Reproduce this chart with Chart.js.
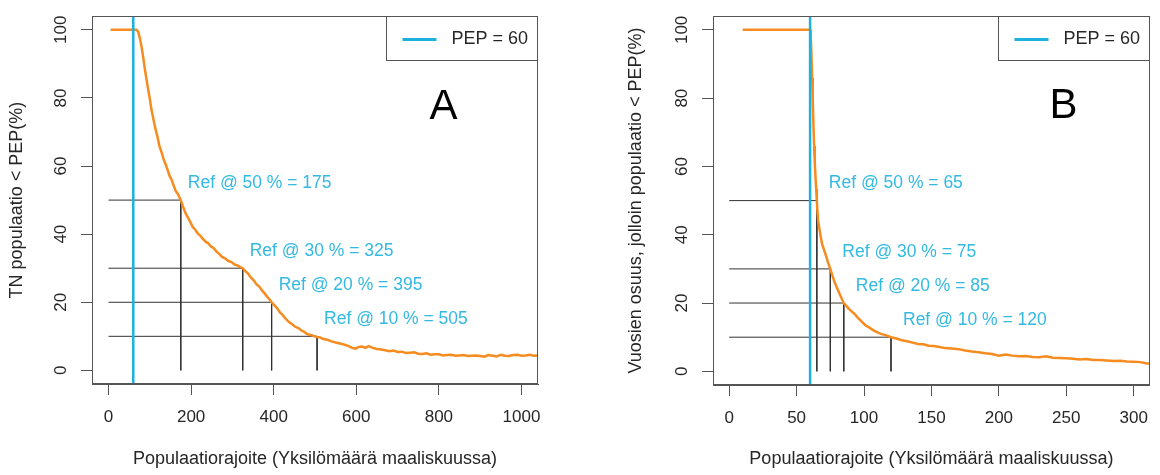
<!DOCTYPE html>
<html>
<head>
<meta charset="utf-8">
<script src="https://cdn.jsdelivr.net/npm/chart.js@4.4.1/dist/chart.umd.min.js"></script>
<style>
  body { margin: 0; background: #fff; }
  canvas { position: absolute; top: 0; }
</style>
</head>
<body>
<canvas id="chartA" width="580" height="475" style="left:0"></canvas>
<canvas id="chartB" width="580" height="475" style="left:580px"></canvas>
<script>
// --- data ---
const pep = 60;
const refPcts = [50, 30, 20, 10];
const refValsA = [175, 325, 395, 505];
const refValsB = [65, 75, 85, 120];
const xTicksA = [0, 200, 400, 600, 800, 1000];
const xTicksB = [0, 50, 100, 150, 200, 250, 300];
const yTicks = [0, 20, 40, 60, 80, 100];

const curveAx = [
  5, 40, 68, 72, 76, 80, 84, 88, 92, 96,
  100, 104, 109, 113, 118, 123, 128, 133, 138, 143,
  148, 153, 158, 163, 168, 175, 180, 186, 192, 198,
  204, 210, 216, 222, 228, 235, 242, 248, 255, 262,
  268, 275, 282, 290, 298, 305, 312, 318, 325, 332,
  338, 345, 352, 358, 365, 372, 378, 385, 390, 395,
  402, 408, 415, 422, 428, 437, 444, 452, 460, 467,
  474, 482, 490, 497, 505, 512, 520, 530, 540, 550,
  560, 570, 580, 590, 598, 606, 614, 622, 630, 640,
  650, 660, 670, 680, 690, 700, 710, 720, 730, 740,
  750, 760, 770, 780, 790, 800, 810, 820, 830, 840,
  850, 860, 870, 880, 890, 900, 910, 920, 930, 940,
  950, 960, 970, 980, 990, 1000, 1010, 1020, 1030, 1045
];
const curveAy = [
  100, 100, 100, 99.4, 97.5, 95, 92, 88.5, 85.5, 82.5,
  79.8, 76.5, 73.6, 71.2, 68.9, 66, 64.2, 62.1, 60.6, 58.9,
  57.1, 55.9, 54.2, 52.6, 51.8, 50, 48.2, 46.3, 44.9, 43.6,
  42.1, 41.3, 40.2, 39.6, 38.7, 37.8, 37.3, 36.4, 35.9, 34.8,
  34.2, 33.3, 32.9, 32.1, 31.8, 31.1, 30.8, 30.4, 30, 29.1,
  28.4, 27.2, 26.4, 25.3, 24.6, 23.4, 22.6, 21.5, 20.8, 20,
  19.1, 18.3, 17.0, 16.2, 15.3, 14.2, 13.6, 12.8, 12.4, 11.7,
  11.3, 10.6, 10.4, 10.1, 9.8, 9.7, 9.2, 9.0, 8.5, 8.2,
  7.9, 7.6, 7.2, 6.6, 6.4, 6.9, 7.0, 6.6, 7.1, 6.6,
  6.3, 6.1, 5.9, 5.6, 5.8, 5.4, 5.5, 5.1, 5.2, 5.3,
  4.9, 4.8, 5.0, 4.6, 4.7, 4.7, 4.4, 4.5, 4.6, 4.3,
  4.4, 4.5, 4.2, 4.3, 4.4, 4.2, 4.0, 4.5, 4.3, 4.1,
  4.6, 4.3, 4.2, 4.5, 4.6, 4.3, 4.4, 4.6, 4.3, 4.4
];

const curveBx = [
  10, 40, 60, 60.5, 61, 61.5, 62, 62.5, 63, 63.5,
  64, 64.5, 65, 65.5, 66, 67, 68, 69, 70.5, 72,
  73.5, 75, 76.5, 78, 80, 82, 84, 85, 87, 89,
  91, 93, 95, 97, 99, 101, 104, 107, 110, 113,
  116, 120, 124, 128, 132, 136, 140, 144, 148, 152,
  156, 160, 165, 170, 175, 180, 185, 190, 195, 200,
  205, 210, 215, 220, 225, 230, 235, 240, 245, 250,
  255, 260, 265, 270, 275, 280, 285, 290, 295, 300,
  305, 309, 315
];
const curveBy = [
  100, 100, 100, 98, 93, 86, 79, 72, 66, 61,
  57, 53.5, 50, 46.5, 44, 41.5, 39.2, 37.2, 35.4, 33.6,
  31.7, 30, 28.1, 26.3, 24.4, 22.6, 20.8, 20, 19.1, 18.2,
  17.5, 16.8, 15.9, 15.1, 14.3, 13.5, 12.8, 12.0, 11.4, 10.9,
  10.6, 10.0, 9.6, 9.1, 8.8, 8.4, 8.0, 7.9, 7.5, 7.4,
  7.1, 6.8, 6.7, 6.5, 6.1, 5.8, 5.6, 5.3, 5.1, 4.6,
  4.9, 4.6, 4.4, 4.5, 4.2, 4.1, 4.4, 4.0, 3.9, 3.8,
  3.7, 3.5, 3.6, 3.3, 3.3, 3.2, 3.0, 3.1, 2.9, 2.8,
  2.7, 2.4, 2.1
];

// --- styling ---
const FONT = '"Liberation Sans", Arial, sans-serif';
const ORANGE = '#F68B1F';
const CYAN = '#1DB2DE';
const CYAN_TEXT = '#33B9E2';
const INK = '#262626';
const FRAME = '#555555';
const Y_MIN = -4, Y_MAX = 104;

Chart.defaults.font.family = FONT;

function points(xs, ys) {
  return xs.map((x, i) => ({x: x, y: ys[i]}));
}

// horizontal from x=0 to the ref value, then down to 0; null breaks the line
function refPath(vals) {
  const pts = [];
  vals.forEach((v, i) => {
    pts.push({x: 0, y: refPcts[i]}, {x: v, y: refPcts[i]}, {x: v, y: 0}, {x: v, y: null});
  });
  return pts;
}

const rDecor = {
  id: 'rDecor',
  afterDraw(chart, args, o) {
    const {ctx, chartArea: a, scales: {x, y}} = chart;
    ctx.save();
    // frame round the plot
    ctx.strokeStyle = FRAME;
    ctx.lineWidth = 1;
    const l = Math.round(a.left) + 0.5, t = Math.round(a.top) + 0.5;
    const r = Math.round(a.right) - 0.5, b = Math.round(a.bottom) - 0.5;
    ctx.strokeRect(l, t, r - l, b - t);

    // legend, top right
    const lw = 151, lh = 44;
    ctx.fillStyle = '#fff';
    ctx.fillRect(r - lw, t, lw, lh);
    ctx.strokeRect(r - lw, t, lw, lh);
    ctx.strokeStyle = CYAN;
    ctx.lineWidth = 3;
    ctx.beginPath();
    ctx.moveTo(r - lw + 16, t + 23);
    ctx.lineTo(r - lw + 50, t + 23);
    ctx.stroke();
    ctx.fillStyle = INK;
    ctx.font = '18px ' + FONT;
    ctx.textAlign = 'left';
    ctx.textBaseline = 'middle';
    ctx.fillText(chart.data.datasets[0].label, r - lw + 65, t + 23);

    // ref labels
    ctx.fillStyle = CYAN_TEXT;
    ctx.font = '17.5px ' + FONT;
    o.refVals.forEach((v, i) => {
      ctx.fillText('Ref @ ' + refPcts[i] + ' % = ' + v,
        x.getPixelForValue(v) + o.labelShift, y.getPixelForValue(refPcts[i] + 5));
    });

    // panel letter
    ctx.fillStyle = '#000';
    ctx.font = '42px ' + FONT;
    ctx.textAlign = 'center';
    ctx.textBaseline = 'alphabetic';
    ctx.fillText(o.letter, x.getPixelForValue(o.letterAt[0]), y.getPixelForValue(o.letterAt[1]));
    ctx.restore();
  }
};

function makeChart(id, p) {
  return new Chart(id, {
    type: 'line',
    data: {
      datasets: [
        {
          label: 'PEP = ' + pep,
          data: [{x: pep, y: Y_MIN}, {x: pep, y: Y_MAX}],
          borderColor: CYAN, borderWidth: 2.5, pointRadius: 0, order: 1
        },
        {
          label: 'curve',
          data: points(p.cx, p.cy),
          borderColor: ORANGE, borderWidth: 2.5, pointRadius: 0, tension: 0, order: 2
        },
        {
          label: 'refs',
          data: refPath(p.refVals),
          borderColor: '#333', borderWidth: 1, pointRadius: 0, spanGaps: false, order: 3
        }
      ]
    },
    options: {
      responsive: false,
      animation: false,
      layout: { padding: p.padding },
      plugins: {
        legend: {display: false},
        tooltip: {enabled: false},
        rDecor: p.decor
      },
      scales: {
        x: {
          type: 'linear',
          min: p.xMin, max: p.xMax,
          afterBuildTicks: s => { s.ticks = p.xTicks.map(v => ({value: v})); },
          afterFit: s => { s.height = p.xHeight; },
          grid: { drawOnChartArea: false, drawTicks: true, tickLength: 11, color: FRAME },
          border: { display: true, color: FRAME },
          ticks: {
            autoSkip: false, maxRotation: 0, padding: 12,
            color: INK, font: {size: 17},
            callback: v => String(v)
          },
          title: {
            display: true,
            text: 'Populaatiorajoite (Yksilömäärä maaliskuussa)',
            color: INK, font: {size: 18},
            padding: {top: 0, bottom: 5}
          }
        },
        y: {
          type: 'linear',
          min: Y_MIN, max: Y_MAX,
          afterBuildTicks: s => { s.ticks = yTicks.map(v => ({value: v})); },
          afterFit: s => { s.width = p.yWidth; },
          grid: { drawOnChartArea: false, drawTicks: true, tickLength: 11, color: FRAME },
          border: { display: true, color: FRAME },
          ticks: {
            minRotation: 90, maxRotation: 90, crossAlign: 'center', padding: 6,
            color: INK, font: {size: 17},
            callback: v => String(v)
          },
          title: {
            display: true,
            text: p.yTitle,
            color: INK, font: {size: 18},
            padding: {top: p.yTitlePad, bottom: 0}
          }
        }
      }
    },
    plugins: [rDecor]
  });
}

makeChart('chartA', {
  cx: curveAx, cy: curveAy, refVals: refValsA,
  xMin: -40, xMax: 1040, xTicks: xTicksA,
  padding: {left: 0, right: 42, top: 7, bottom: 0},
  xHeight: 91, yWidth: 92, yTitlePad: 6,
  yTitle: 'TN populaatio < PEP(%)',
  decor: {refVals: refValsA, labelShift: 7, letter: 'A', letterAt: [811, 73.7]}
});

makeChart('chartB', {
  cx: curveBx, cy: curveBy, refVals: refValsB,
  xMin: -12, xMax: 312, xTicks: xTicksB,
  padding: {left: 0, right: 3, top: 9, bottom: 0},
  xHeight: 90, yWidth: 133, yTitlePad: 45,
  yTitle: 'Vuosien osuus, jolloin populaatio < PEP(%)',
  decor: {refVals: refValsB, labelShift: 12, letter: 'B', letterAt: [248, 74.2]}
});
</script>
</body>
</html>
